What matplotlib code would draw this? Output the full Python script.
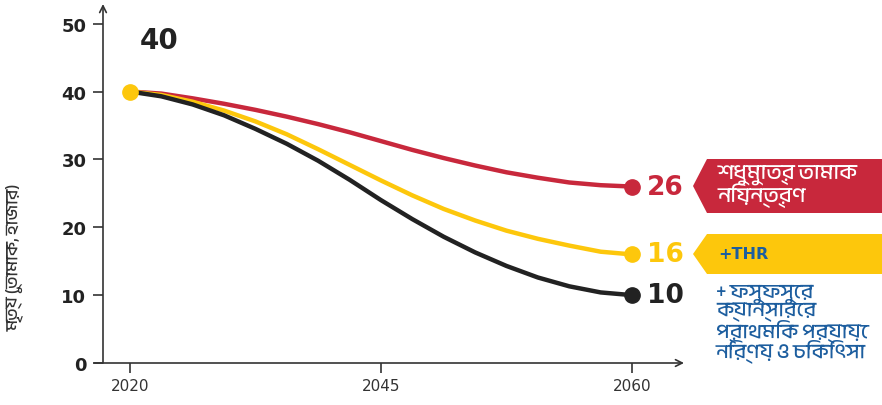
import matplotlib
matplotlib.use('Agg')
import matplotlib.pyplot as plt
from matplotlib import font_manager
from matplotlib.ft2font import FT2Font
from matplotlib.patches import Polygon

# x positions along the (evenly spaced) year axis: 0 = 2020, 1 = 2045, 2 = 2060
year_labels = ['2020', '2045', '2060']
pos = [i * 0.125 for i in range(17)]

# values at each position
tobacco_only = [40, 39.7, 39.0, 38.2, 37.3, 36.3, 35.2, 34.0, 32.7,
                31.4, 30.2, 29.1, 28.1, 27.3, 26.6, 26.2, 26]
with_thr = [40, 39.5, 38.5, 37.2, 35.6, 33.7, 31.5, 29.2, 26.9,
            24.7, 22.7, 21.0, 19.5, 18.3, 17.3, 16.4, 16]
with_screening = [40, 39.3, 38.1, 36.5, 34.5, 32.3, 29.8, 27.0, 24.0,
                  21.2, 18.6, 16.3, 14.3, 12.6, 11.3, 10.4, 10]

y_ticks = [0, 10, 20, 30, 40, 50]
y_label = 'মৃত্যু (তামাক, হাজার)'
banner_red = 'শুধুমাত্র তামাক\nনিয়ন্ত্রণ'
banner_yellow = '+THR'
banner_blue = '+ ফুসফুসের\nক্যান্সারের\nপ্রাথমিক পর্যায়ে\nনির্ণয় ও চিকিৎসা'

RED = '#C8283C'
YELLOW = '#FDC70C'
BLACK = '#222222'
BLUE = '#1D5E9F'
GREY = '#333333'


def find_bengali():
    for f in font_manager.fontManager.ttflist:
        if any(k in f.name for k in ('Bengali', 'Bangla', 'Lohit')):
            return f.name
    for f in font_manager.fontManager.ttflist:
        try:
            if 0x09AE in FT2Font(f.fname).get_charmap():
                return f.name
        except Exception:
            pass
    return None


bn = find_bengali()
fams = [bn, 'DejaVu Sans'] if bn else ['DejaVu Sans']
plt.rcParams['font.family'] = fams

W, H = 882, 406
fig = plt.figure(figsize=(W / 100, H / 100), dpi=100)
fig.patch.set_facecolor('white')

# axes box in pixels: left 103, right 684, bottom 364, top 5
ax = fig.add_axes([103 / W, 1 - 364 / H, (684 - 103) / W, (364 - 5) / H])
ax.set_xlim(-0.107, 2.207)
ax.set_ylim(0, 52.9)

for vals, c in [(tobacco_only, RED), (with_thr, YELLOW), (with_screening, BLACK)]:
    ax.plot(pos, vals, color=c, lw=3.2, solid_capstyle='round',
            solid_joinstyle='round', zorder=3)
    ax.plot(pos[-1], vals[-1], 'o', color=c, ms=11, zorder=4)
    ax.annotate(f'{vals[-1]}', (pos[-1], vals[-1]), xytext=(11, 0),
                textcoords='offset points', va='center', ha='left',
                fontsize=19, fontweight='bold', color=c, family='DejaVu Sans')

ax.plot(pos[0], with_thr[0], 'o', color=YELLOW, ms=11, zorder=5)
ax.text(0.04, 47.6, f'{with_thr[0]}', fontsize=20, fontweight='bold',
        color=BLACK, va='center', ha='left', family='DejaVu Sans')

# axes with arrow ends
for s in ['top', 'right', 'left', 'bottom']:
    ax.spines[s].set_visible(False)
ax.annotate('', xy=(0, 1.0), xytext=(0, 0), xycoords='axes fraction',
            arrowprops=dict(arrowstyle='->', color=GREY, lw=1.2,
                            shrinkA=0, shrinkB=0, mutation_scale=12))
ax.annotate('', xy=(1.0, 0), xytext=(-0.015, 0), xycoords='axes fraction',
            arrowprops=dict(arrowstyle='->', color=GREY, lw=1.2,
                            shrinkA=0, shrinkB=0, mutation_scale=12))

ax.set_xticks(range(len(year_labels)))
ax.set_xticklabels(year_labels, fontsize=11, color=GREY, family='DejaVu Sans')
ax.set_yticks(y_ticks)
ax.set_yticklabels([str(t) for t in y_ticks], fontsize=13, fontweight='bold',
                   color=BLACK, family='DejaVu Sans')
ax.tick_params(axis='x', length=7, width=1.2, color=GREY, pad=4)
ax.tick_params(axis='y', length=7, width=1.2, color=GREY, pad=5)

fig.text(15 / W, 1 - 257 / H, y_label, rotation=90, fontsize=12.5, color=GREY,
         va='center', ha='center')

# banners on the right
def banner(y_top, y_bot, color):
    ym = (y_top + y_bot) / 2
    pts = [(693, ym), (707, y_top), (W, y_top), (W, y_bot), (707, y_bot)]
    pts = [(x / W, 1 - y / H) for x, y in pts]
    fig.patches.append(Polygon(pts, closed=True, facecolor=color,
                               edgecolor='none', transform=fig.transFigure))

banner(160, 214, RED)
banner(235, 275, YELLOW)

fig.text(718 / W, 1 - 187 / H, banner_red, fontsize=15.5, fontweight='bold',
         color='white', va='center', ha='left', linespacing=0.85)
fig.text(718 / W, 1 - 255 / H, banner_yellow, fontsize=11.5, fontweight='bold',
         color=BLUE, va='center', ha='left', family='DejaVu Sans')
fig.text(716 / W, 1 - 324 / H, banner_blue, fontsize=15, fontweight='bold',
         color=BLUE, va='center', ha='left', linespacing=0.8)

fig.savefig('out.png', dpi=100, facecolor='white')
